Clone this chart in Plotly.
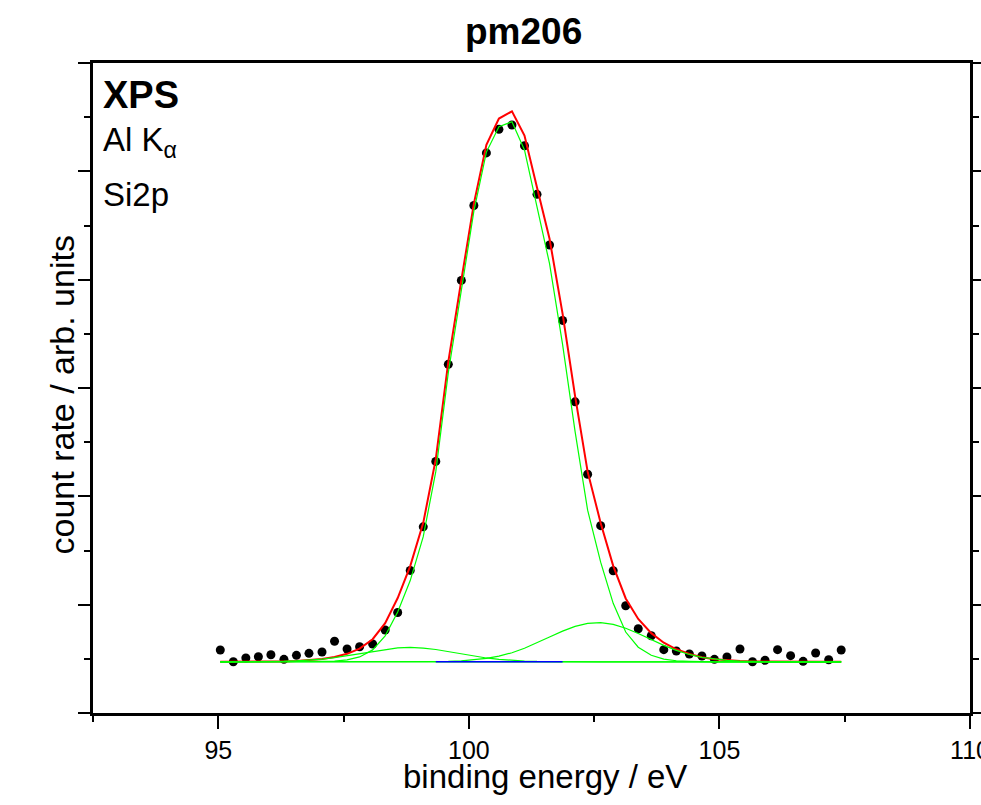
import plotly.graph_objects as go

# binding energy (eV) of the measured points
energy = [95.04, 95.30, 95.55, 95.80, 96.05, 96.31, 96.56, 96.81, 97.07, 97.32,
          97.57, 97.82, 98.08, 98.33, 98.58, 98.83, 99.09, 99.34, 99.59, 99.85,
          100.10, 100.35, 100.60, 100.86, 101.11, 101.36, 101.61, 101.87, 102.12, 102.37,
          102.63, 102.88, 103.13, 103.38, 103.64, 103.89, 104.14, 104.40, 104.65, 104.90,
          105.15, 105.41, 105.66, 105.91, 106.16, 106.42, 106.67, 106.92, 107.18, 107.43]

# measured count rate (arb. units)
counts = [1.163, 0.947, 1.015, 1.039, 1.076, 0.991, 1.065, 1.102, 1.126, 1.324,
          1.181, 1.224, 1.274, 1.532, 1.855, 2.632, 3.437, 4.645, 6.437, 7.986,
          9.370, 10.340, 10.775, 10.855, 10.473, 9.575, 8.640, 7.248, 5.745, 4.407,
          3.458, 2.627, 1.981, 1.556, 1.427, 1.169, 1.145, 1.089, 1.052, 0.991,
          1.034, 1.181, 0.947, 0.973, 1.169, 1.058, 0.954, 1.108, 0.984, 1.163]

# total fit envelope
fit_total = [0.945, 0.945, 0.946, 0.947, 0.949, 0.953, 0.961, 0.974, 0.999, 1.034,
             1.093, 1.189, 1.362, 1.658, 2.122, 2.711, 3.511, 4.686, 6.483, 7.989,
             9.404, 10.488, 10.974, 11.109, 10.659, 9.701, 8.755, 7.373, 5.850, 4.456,
             3.509, 2.716, 2.115, 1.737, 1.474, 1.298, 1.176, 1.091, 1.028, 0.993,
             0.971, 0.958, 0.951, 0.948, 0.945, 0.945, 0.945, 0.945, 0.945, 0.945]

# main Si2p component (on background)
comp_main = [0.945, 0.945, 0.945, 0.945, 0.945, 0.945, 0.945, 0.945, 0.949, 0.957,
             0.980, 1.035, 1.165, 1.425, 1.865, 2.445, 3.255, 4.455, 6.285, 7.825,
             9.265, 10.355, 10.825, 10.915, 10.395, 9.345, 8.295, 6.805, 5.195, 3.745,
             2.785, 2.025, 1.495, 1.215, 1.065, 0.995, 0.965, 0.955, 0.945, 0.945,
             0.945, 0.945, 0.945, 0.945, 0.945, 0.945, 0.945, 0.945, 0.945, 0.945]

# low-energy minor component
comp_low = [0.945, 0.945, 0.946, 0.947, 0.949, 0.953, 0.961, 0.974, 0.995, 1.022,
            1.058, 1.099, 1.142, 1.178, 1.202, 1.210, 1.199, 1.172, 1.134, 1.091,
            1.050, 1.016, 0.990, 0.971, 0.959, 0.952, 0.948, 0.946, 0.945, 0.945,
            0.945, 0.945, 0.945, 0.945, 0.945, 0.945, 0.945, 0.945, 0.945, 0.945,
            0.945, 0.945, 0.945, 0.945, 0.945, 0.945, 0.945, 0.945, 0.945, 0.945]

# high-energy minor component
comp_high = [0.945, 0.945, 0.945, 0.945, 0.945, 0.945, 0.945, 0.945, 0.945, 0.945,
             0.945, 0.945, 0.945, 0.945, 0.945, 0.946, 0.947, 0.949, 0.954, 0.963,
             0.979, 1.007, 1.049, 1.113, 1.195, 1.294, 1.402, 1.512, 1.600, 1.656,
             1.669, 1.636, 1.565, 1.467, 1.354, 1.248, 1.156, 1.081, 1.028, 0.993,
             0.971, 0.958, 0.951, 0.948, 0.945, 0.945, 0.945, 0.945, 0.945, 0.945]

# background
background = [0.945, 0.945, 0.945, 0.945, 0.945, 0.945, 0.945, 0.945, 0.945, 0.945,
              0.945, 0.945, 0.945, 0.945, 0.945, 0.945, 0.945, 0.945, 0.945, 0.945,
              0.945, 0.945, 0.945, 0.945, 0.945, 0.945, 0.945, 0.945, 0.945, 0.945,
              0.945, 0.945, 0.945, 0.945, 0.945, 0.945, 0.945, 0.945, 0.945, 0.945,
              0.945, 0.945, 0.945, 0.945, 0.945, 0.945, 0.945, 0.945, 0.945, 0.945]

# tiny extra component (blue)
comp_tiny = [None, None, None, None, None, None, None, None, None, None,
             None, None, None, None, None, None, None, 0.946, 0.947, 0.948,
             0.949, 0.949, 0.949, 0.949, 0.948, 0.947, 0.946, 0.946, None, None,
             None, None, None, None, None, None, None, None, None, None,
             None, None, None, None, None, None, None, None, None, None]

x_ticks = [95, 100, 105, 110]
x_tick_labels = ["95", "100", "105", "110"]

FONT = "Liberation Sans, Arial, Helvetica, sans-serif"
GREEN = "#00ff00"

fig = go.Figure()
fig.add_trace(go.Scatter(x=energy, y=counts, mode="markers",
                         marker=dict(color="black", size=9), showlegend=False))
fig.add_trace(go.Scatter(x=energy, y=fit_total, mode="lines",
                         line=dict(color="#ff0000", width=2), showlegend=False))
for comp in (comp_main, comp_low, comp_high, background):
    fig.add_trace(go.Scatter(x=energy, y=comp, mode="lines",
                             line=dict(color=GREEN, width=1.2), showlegend=False))
fig.add_trace(go.Scatter(x=energy, y=comp_tiny, mode="lines",
                         line=dict(color="#0000ff", width=1.3), showlegend=False))

fig.update_layout(
    width=981, height=805,
    margin=dict(l=93, r=11, t=63, b=92, autoexpand=False),
    paper_bgcolor="white", plot_bgcolor="white",
    font=dict(family=FONT, color="black"),
    showlegend=False,
    xaxis=dict(range=[92.5, 110], showgrid=False, zeroline=False, automargin=False,
               showline=True, linecolor="black", linewidth=2.5, mirror=True,
               ticks="outside", ticklen=13, tickwidth=2, tickcolor="black",
               tickvals=x_ticks, ticktext=x_tick_labels, ticklabeloverflow="allow",
               tickfont=dict(size=25, family=FONT),
               minor=dict(tickvals=[92.5, 97.5, 102.5, 107.5], ticks="outside",
                          ticklen=6, tickwidth=2, tickcolor="black")),
    yaxis=dict(range=[0, 12], showgrid=False, zeroline=False, automargin=False,
               showline=True, linecolor="black", linewidth=2.5, mirror="allticks",
               ticks="outside", ticklen=12, tickwidth=2, tickcolor="black",
               dtick=2, tick0=0, showticklabels=False,
               minor=dict(dtick=1, ticks="outside", ticklen=6, tickwidth=2,
                          tickcolor="black")),
    annotations=[
        dict(text="<b>pm206</b>", xref="paper", yref="paper", x=0.4914, y=1.048,
             xanchor="center", yanchor="middle", showarrow=False,
             font=dict(size=37, family=FONT)),
        dict(text="binding energy / eV", xref="paper", yref="paper", x=0.5154, y=-0.066,
             xanchor="center", yanchor="top", showarrow=False,
             font=dict(size=33, family=FONT)),
        dict(text="count rate / arb. units", xref="paper", yref="paper", x=-0.035, y=0.489,
             xanchor="center", yanchor="middle", textangle=-90, showarrow=False,
             font=dict(size=34, family=FONT)),
        dict(text="<b>XPS</b>", xref="paper", yref="paper", x=0.009, y=0.951,
             xanchor="left", yanchor="middle", showarrow=False,
             font=dict(size=38, family=FONT)),
        dict(text="Al K<sub>α</sub>", xref="paper", yref="paper", x=0.009, y=0.879,
             xanchor="left", yanchor="middle", showarrow=False,
             font=dict(size=33, family=FONT)),
        dict(text="Si2p", xref="paper", yref="paper", x=0.009, y=0.797,
             xanchor="left", yanchor="middle", showarrow=False,
             font=dict(size=33, family=FONT)),
    ],
)

fig.write_html("out.html")
